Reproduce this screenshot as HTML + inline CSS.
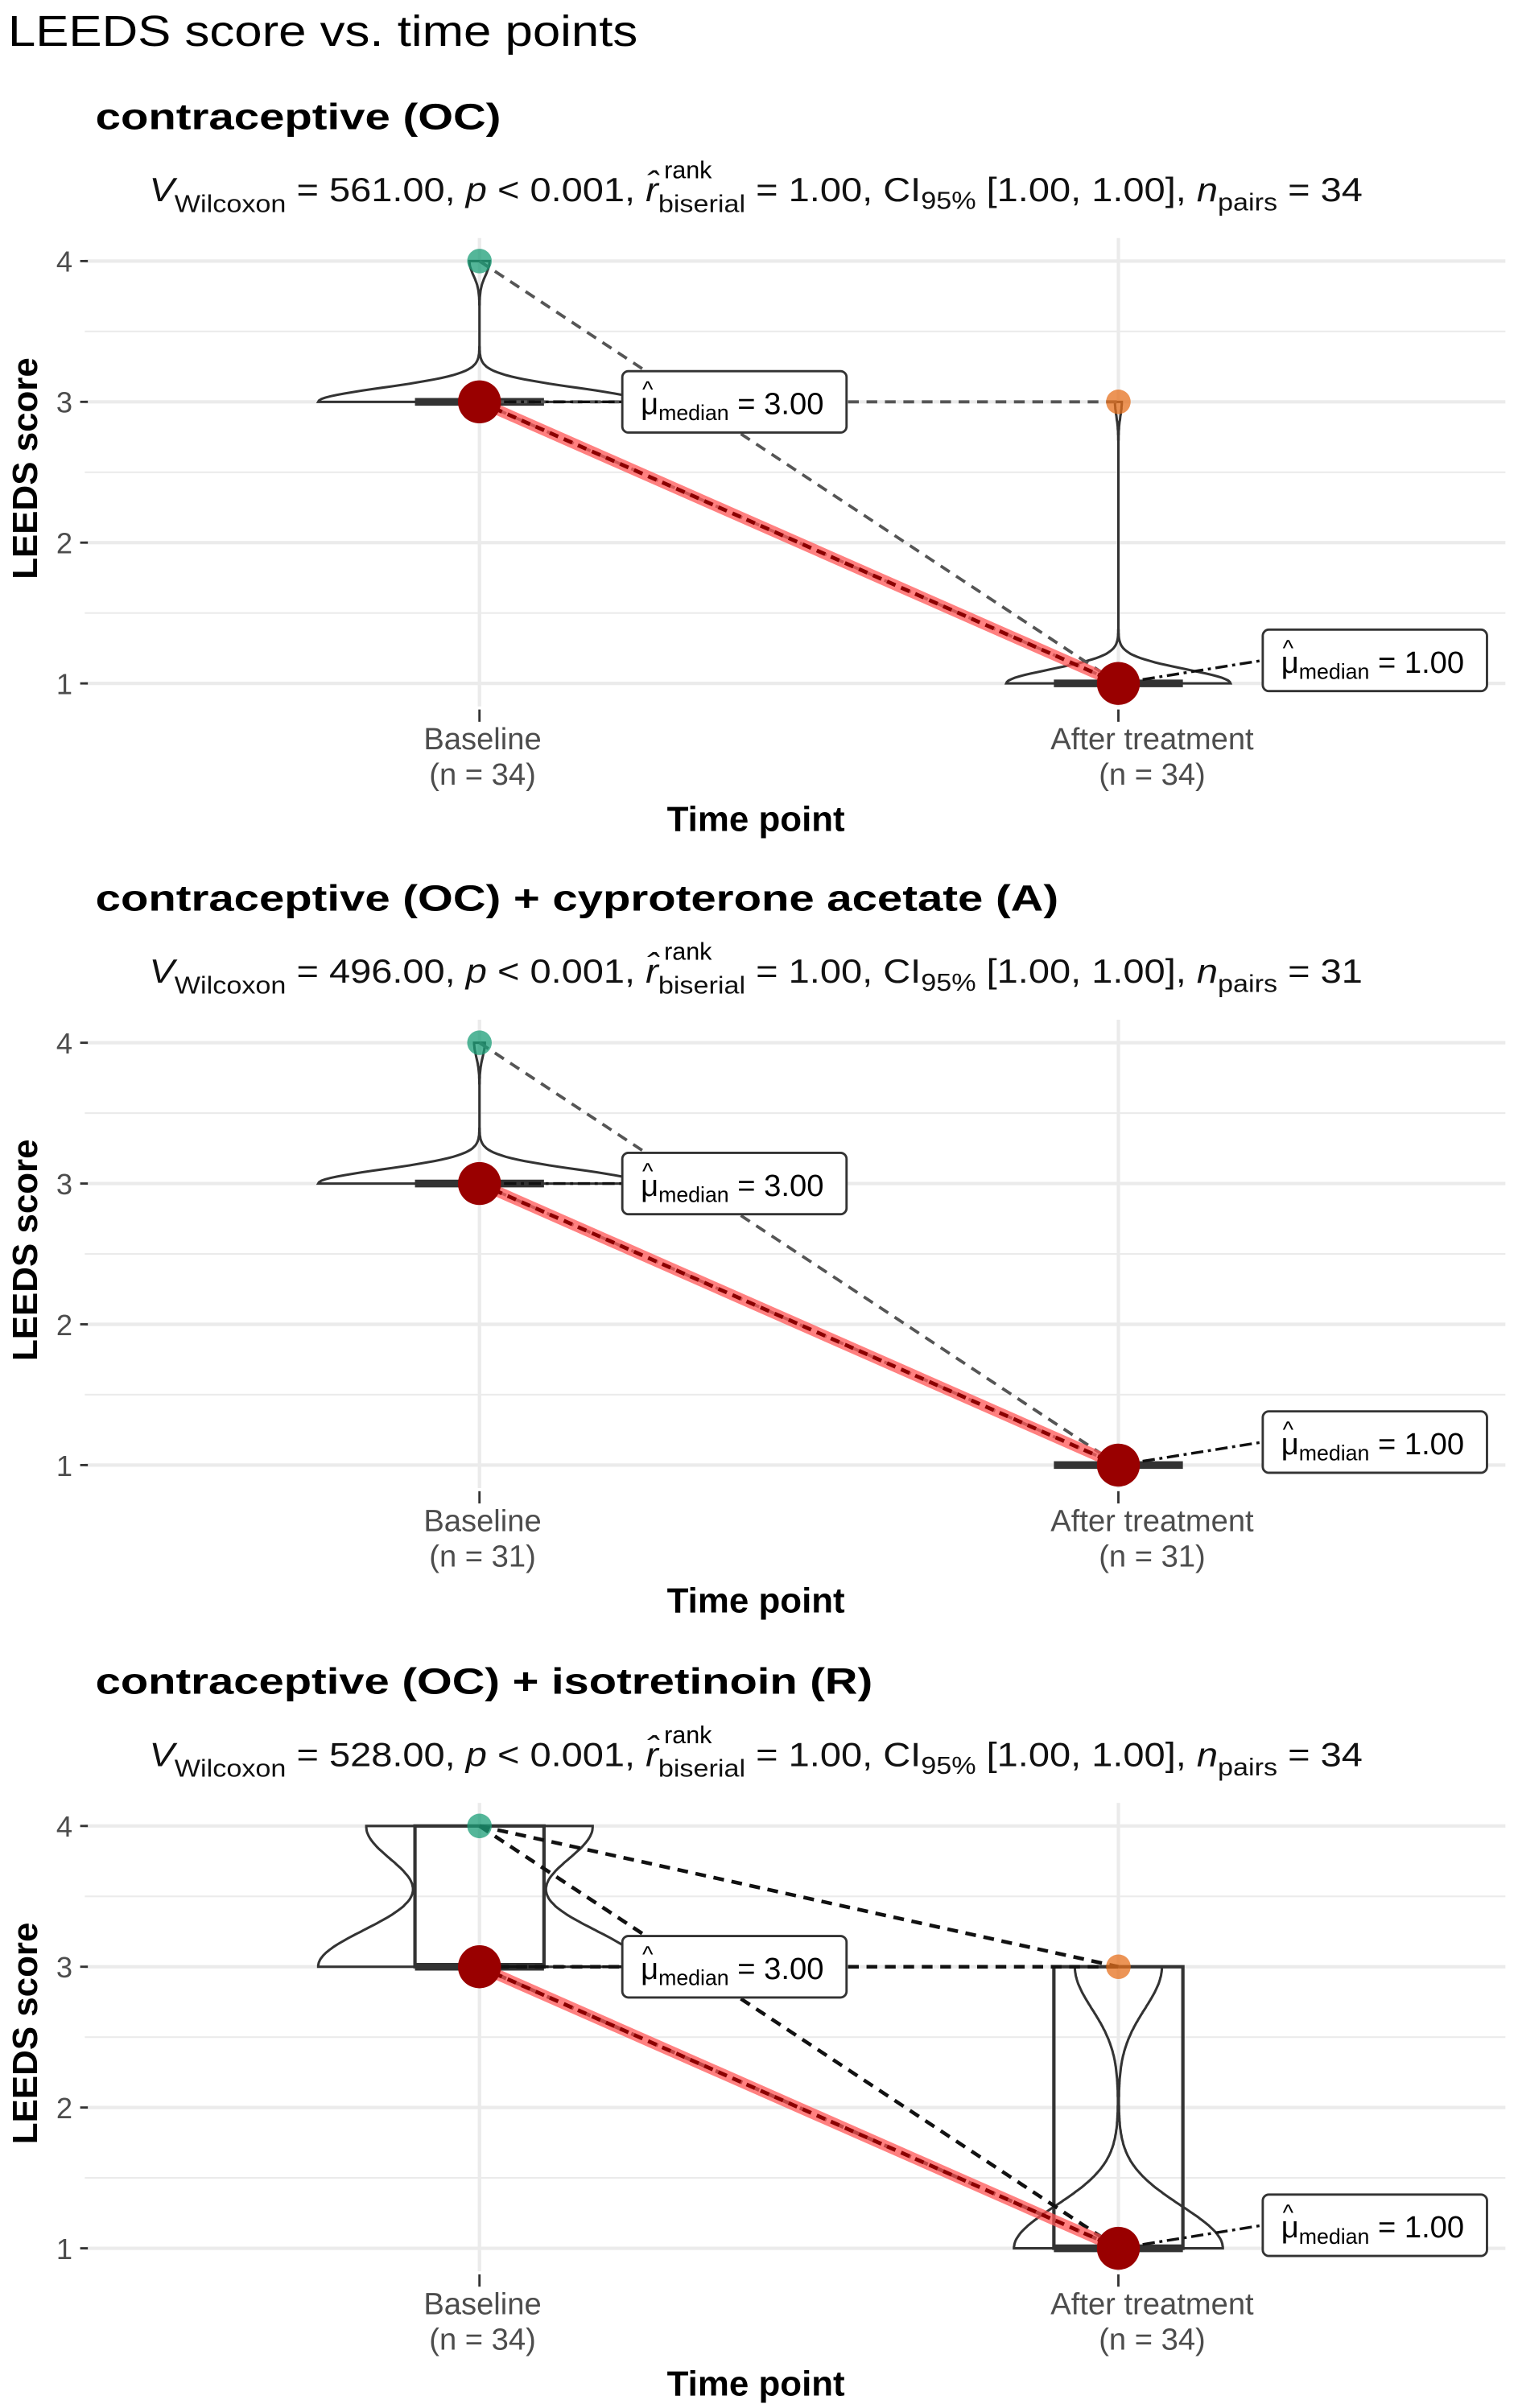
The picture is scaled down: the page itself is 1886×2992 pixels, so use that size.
<!DOCTYPE html>
<html><head><meta charset="utf-8"><style>
html,body{margin:0;padding:0;background:#fff;}
svg{display:block;font-family:"Liberation Sans",Arial,sans-serif;}
</style></head><body>
<svg id="chart" width="1886" height="2992" viewBox="0 0 988 1568" xmlns="http://www.w3.org/2000/svg">
<text x="5" y="30" font-size="28" fill="#000" textLength="410" lengthAdjust="spacingAndGlyphs">LEEDS score vs. time points</text>
</svg>
<script>
const panelTitles = ["contraceptive (OC)", "contraceptive (OC) + cyproterone acetate (A)", "contraceptive (OC) + isotretinoin (R)"];
const statV = ["561.00", "496.00", "528.00"];
const nPairs = [34, 31, 34];
const categories = ["Baseline", "After treatment"];
const groupN = [[34, 34], [31, 31], [34, 34]];
// counts for score 1,2,3,4
const baselineCounts = [[0, 0, 32, 2], [0, 0, 30, 1], [0, 0, 20, 14]];
const afterCounts = [[33, 0, 1, 0], [31, 0, 0, 0], [24, 0, 10, 0]];
const medBase = [3, 3, 3];
const medAfter = [1, 1, 1];
const pairsFrom = [[4, 3, 3], [4, 3], [4, 4, 3, 3]];
const pairsTo = [[1, 3, 1], [1, 1], [3, 1, 3, 1]];
const yTicks = [1, 2, 3, 4];

const NS = "http://www.w3.org/2000/svg";
const svg = document.getElementById("chart");
function el(tag, attrs, parent, txt) {
  const e = document.createElementNS(NS, tag);
  for (const k in attrs) e.setAttribute(k, attrs[k]);
  if (txt !== undefined) e.textContent = txt;
  (parent || svg).appendChild(e);
  return e;
}
const bws = [0.1, 0.1, 0.3];
const vw = [[105, 73], [105, 0], [105, 68]];
const showBox = [false, false, true];
const xPos = [312, 728];

for (let p = 0; p < 3; p++) {
  const off = [0, 509, 1019][p];
  const g = el("g", {}, svg);
  
  
  const yS = v => off + 170 + (4 - v) * 91.67;
  const xS = i => xPos[i];

  let t = el("text", {x: 62, y: 84 + off, "font-size": 24, "font-weight": "bold", textLength: [264, 627, 506][p], lengthAdjust: "spacingAndGlyphs"}, g, panelTitles[p]);
  
  

  // stats
  const st = el("text", {x: 97, y: 131 + off, "font-size": 22, fill: "#111", textLength: 790, lengthAdjust: "spacingAndGlyphs"}, g);
  
  
  const parts = [["V", "i", 0], ["Wilcoxon", "s", 7], [" = " + statV[p] + ", ", "", -7], ["p", "i", 0], [" < 0.001, ", "", 0],
    ["r̂", "i", 0], ["biserial", "s", 7], [" = 1.00, CI", "", -7], ["95%", "s", 5], [" [1.00, 1.00], ", "", -5], ["n", "i", 0], ["pairs", "s", 6], [" = " + nPairs[p], "", -6]];
  let idx = 0, rIdx = 0;
  parts.forEach(pt => {
    const a = {dy: pt[2]};
    if (pt[1] === "i") a["font-style"] = "italic";
    if (pt[1] === "s") a["font-size"] = 16;
    if (pt[0] === "r̂") rIdx = idx;
    idx += pt[0].length;
    el("tspan", a, st, pt[0]);
  });
  let rx = 420;
  try { rx = st.getStartPositionOfChar(rIdx).x + 12; } catch (e) {}
  el("text", {x: rx, y: 116 + off, "font-size": 16}, g, "rank");

  // grid
  for (let v = 1; v <= 4; v += 0.5) {
    const maj = Number.isInteger(v);
    el("line", {x1: 55, x2: 980, y1: yS(v), y2: yS(v), stroke: "#ebebeb", "stroke-width": maj ? 2.2 : 1.1}, g);
  }
  xPos.forEach(x => el("line", {x1: x, x2: x, y1: off + 155, y2: off + 460, stroke: "#ebebeb", "stroke-width": 2.2}, g));
  yTicks.forEach(v => {
    let tl = el("text", {x: 47, y: yS(v) + 7, "font-size": 19, "text-anchor": "end", fill: "#4d4d4d"}, g, String(v));
    
    
    el("line", {x1: 52, x2: 57, y1: yS(v), y2: yS(v), stroke: "#333", "stroke-width": 1.5}, g);
  });
  let yt = el("text", {transform: `translate(24,${off + 305}) rotate(-90)`, "font-size": 23, "font-weight": "bold", "text-anchor": "middle"}, g, "LEEDS score");
  
  
  categories.forEach((c, i) => {
    el("line", {x1: xS(i), x2: xS(i), y1: off + 462, y2: off + 470, stroke: "#333", "stroke-width": 1.5}, g);
    const cx = i === 0 ? 314 : 750;
    let xl = el("text", {x: cx, y: off + 488, "font-size": 20, "text-anchor": "middle", fill: "#4d4d4d"}, g, c);
    
    
    el("text", {x: cx, y: off + 511, "font-size": 20, "text-anchor": "middle", fill: "#4d4d4d"}, g, "(n = " + groupN[p][i] + ")");
  });
  let xt = el("text", {x: 492, y: off + 541, "font-size": 23, "font-weight": "bold", "text-anchor": "middle"}, g, "Time point");
  
  

  // violins + boxes
  [baselineCounts[p], afterCounts[p]].forEach((cnt, gi) => {
    const vals = [];
    cnt.forEach((c, k) => { if (c > 0) vals.push(k + 1); });
    const lo = Math.min(...vals), hi = Math.max(...vals);
    const cx = xS(gi);
    if (hi > lo && vw[p][gi] > 0) {
      const bw = bws[p];
      const ys = [], ds = [];
      for (let y = lo; y <= hi + 1e-9; y += 0.01) {
        let d = 0;
        cnt.forEach((c, k) => { d += c * Math.exp(-0.5 * Math.pow((y - (k + 1)) / bw, 2)); });
        ys.push(y); ds.push(d);
      }
      const mx = Math.max(...ds);
      let dpath = "";
      ys.forEach((y, j) => { dpath += (j ? "L" : "M") + (cx + ds[j] / mx * vw[p][gi]).toFixed(1) + "," + yS(y).toFixed(1); });
      for (let j = ys.length - 1; j >= 0; j--) dpath += "L" + (cx - ds[j] / mx * vw[p][gi]).toFixed(1) + "," + yS(ys[j]).toFixed(1);
      dpath += "Z";
      const vp = el("path", {d: dpath, fill: "none", stroke: "#333", "stroke-width": 1.6}, g);
      
      
    }
    const med = gi ? medAfter[p] : medBase[p];
    if (showBox[p]) {
      const bx = el("rect", {x: cx - 42, y: yS(hi), width: 84, height: yS(lo) - yS(hi), fill: "none", stroke: "#333", "stroke-width": 2.2}, g);
      
      
    }
    el("line", {x1: cx - 42, x2: cx + 42, y1: yS(med), y2: yS(med), stroke: "#333", "stroke-width": 5}, g);
  });

  // paired lines
  pairsFrom[p].forEach((f, j) => {
    const tv = pairsTo[p][j];
    const ln = el("line", {x1: xS(0), y1: yS(f), x2: xS(1), y2: yS(tv), stroke: p === 2 ? "#111" : "#555", "stroke-width": p === 2 ? 2.4 : 2, "stroke-dasharray": "7,5"}, g);
    
    
  });
  // raw points
  [baselineCounts[p], afterCounts[p]].forEach((cnt, gi) => {
    cnt.forEach((c, k) => {
      const v = k + 1;
      const med = gi ? medAfter[p] : medBase[p];
      if (c > 0 && v !== med) {
        const pt = el("circle", {cx: xS(gi), cy: yS(v), r: 8, fill: gi ? "#e6701e" : "#1b9e77", "fill-opacity": 0.75}, g);
        
        
      }
    });
  });
  // mean connecting line
  el("line", {x1: xS(0), y1: yS(medBase[p]), x2: xS(1), y2: yS(medAfter[p]), stroke: "#ff5555", "stroke-opacity": 0.75, "stroke-width": 7}, g);
  el("line", {x1: xS(0), y1: yS(medBase[p]), x2: xS(1), y2: yS(medAfter[p]), stroke: "#8b0000", "stroke-width": 2.5, "stroke-dasharray": "6,4"}, g);

  // median labels
  [[medBase[p], 0, 405, 0], [medAfter[p], 1, 822, -15]].forEach(m => {
    const cy = yS(m[0]), lx = m[2], ly = cy + m[3];
    el("line", {x1: xS(m[1]), y1: cy, x2: lx, y2: ly, stroke: "#111", "stroke-width": 1.8, "stroke-dasharray": "8,3,2,3"}, g);
    const c = el("circle", {cx: xS(m[1]), cy: cy, r: 14, fill: "#990000"}, g);
    
    
    const bx = el("rect", {x: lx, y: ly - 20, width: 146, height: 40, rx: 4, fill: "#fff", stroke: "#333", "stroke-width": 1.5}, g);
    
    
    el("text", {x: lx + 13, y: ly - 3, "font-size": 15}, g, "^");
    const tx = el("text", {x: lx + 12, y: ly + 8, "font-size": 20}, g);
    el("tspan", {}, tx, "μ");
    el("tspan", {"font-size": 14, dy: 4}, tx, "median");
    el("tspan", {dy: -4}, tx, " = " + m[0].toFixed(2));
  });
}
</script>
</body></html>
